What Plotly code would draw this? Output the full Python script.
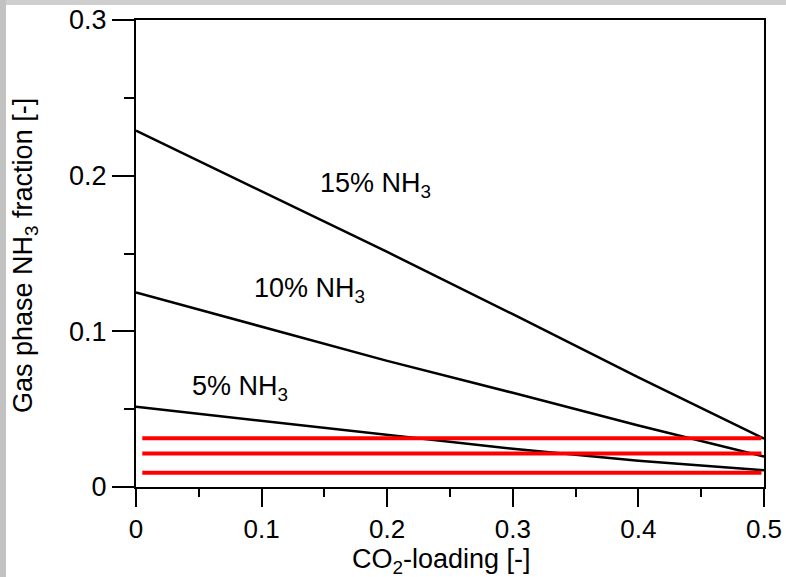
import plotly.graph_objects as go

# CO2 loading grid and gas phase NH3 fractions for each solution strength
co2_loading = [0.0, 0.1, 0.2, 0.3, 0.4, 0.5]
nh3_15 = [0.229, 0.190, 0.151, 0.111, 0.0705, 0.031]
nh3_10 = [0.125, 0.103, 0.081, 0.0605, 0.0395, 0.0195]
nh3_5 = [0.0515, 0.0425, 0.0335, 0.0245, 0.0168, 0.0108]

# Horizontal reference levels (red)
ref_x = [0.005, 0.498]
ref_levels = [0.0313, 0.0216, 0.0092]

# Curve labels and positions
label_text = ["15% NH<sub>3</sub>", "10% NH<sub>3</sub>", "5% NH<sub>3</sub>"]
label_x = [0.191, 0.138, 0.083]
label_y = [0.194, 0.1266, 0.0636]

x_ticks = [0, 0.1, 0.2, 0.3, 0.4, 0.5]
x_ticktext = ["0", "0.1", "0.2", "0.3", "0.4", "0.5"]
y_ticks = [0, 0.1, 0.2, 0.3]
y_ticktext = ["0", "0.1", "0.2", "0.3"]

x_title = "CO<sub>2</sub>-loading [-]"
y_title = "Gas phase NH<sub>3</sub> fraction [-]"

FONT = "Liberation Sans, Arial, Helvetica, sans-serif"
FS = 27
W, H = 786, 577
ML, MR, MT, MB = 136, 22, 20, 90
pw = W - ML - MR
ph = H - MT - MB

fig = go.Figure()

for series in (nh3_15, nh3_10, nh3_5):
    fig.add_trace(go.Scatter(
        x=co2_loading, y=series, mode="lines",
        line=dict(color="black", width=2.5), showlegend=False,
        hoverinfo="skip"))

for level in ref_levels:
    fig.add_trace(go.Scatter(
        x=ref_x, y=[level, level], mode="lines",
        line=dict(color="#ff0000", width=4), showlegend=False,
        hoverinfo="skip"))

for t, lx, ly in zip(label_text, label_x, label_y):
    fig.add_annotation(x=lx, y=ly, text=t, showarrow=False,
                       xanchor="center", yanchor="middle",
                       font=dict(family=FONT, size=FS, color="black"))

# axis titles placed in paper space
fig.add_annotation(xref="paper", yref="paper", x=0.5 - 9 / pw,
                   y=(H - MB - 561) / ph, text=x_title, showarrow=False,
                   xanchor="center", yanchor="middle",
                   font=dict(family=FONT, size=FS, color="black"))
fig.add_annotation(xref="paper", yref="paper", x=(25 - ML) / pw,
                   y=(H - MB - 256) / ph, text=y_title, showarrow=False,
                   textangle=-90, xanchor="center", yanchor="middle",
                   font=dict(family=FONT, size=FS, color="black"))

# grey edge bands along the top and left of the page
fig.add_shape(type="rect", xref="paper", yref="paper", layer="below",
              x0=-ML / pw, x1=(W - ML) / pw,
              y0=(H - MB - 5) / ph, y1=(H - MB) / ph,
              fillcolor="#cfcfcf", line=dict(width=0))
fig.add_shape(type="rect", xref="paper", yref="paper", layer="below",
              x0=-ML / pw, x1=(6 - ML) / pw,
              y0=-MB / ph, y1=(H - MB) / ph,
              fillcolor="#c2c2c2", line=dict(width=0))

axis_common = dict(
    showgrid=False, zeroline=False, showline=True, linecolor="black",
    linewidth=2, mirror=True, ticks="outside", tickcolor="black",
    tickwidth=2, automargin=False,
)

fig.update_xaxes(
    range=[0, 0.5], tickvals=x_ticks, ticktext=x_ticktext, ticklen=18,
    tickfont=dict(family=FONT, size=26, color="black"),
    minor=dict(ticks="outside", dtick=0.05, tick0=0, ticklen=8,
               tickwidth=2, tickcolor="black", showgrid=False),
    **axis_common)
fig.update_yaxes(
    range=[0, 0.3], tickvals=y_ticks, ticktext=y_ticktext, ticklen=22,
    tickfont=dict(family=FONT, size=FS, color="black"),
    minor=dict(ticks="outside", dtick=0.05, tick0=0, ticklen=10,
               tickwidth=2, tickcolor="black", showgrid=False),
    **axis_common)

fig.update_layout(
    width=W, height=H,
    margin=dict(l=ML, r=MR, t=MT, b=MB, autoexpand=False),
    paper_bgcolor="white", plot_bgcolor="white",
    showlegend=False,
)

# page without default body margin so the figure fills the window exactly
fig.write_html("out.html",
               post_script="document.body.style.margin='0';")
